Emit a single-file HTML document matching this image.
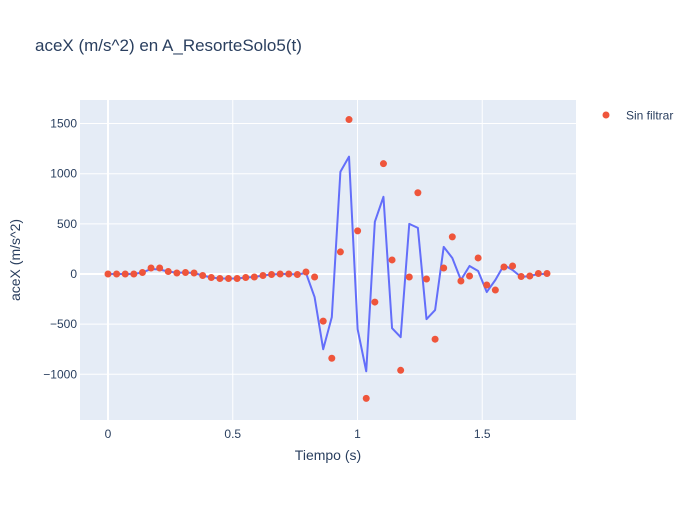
<!DOCTYPE html>
<html><head><meta charset="utf-8"><style>
body{margin:0;background:#fff;font-family:"Liberation Sans",sans-serif}
text{font-family:"Liberation Sans",sans-serif;fill:#2a3f5f}
</style></head><body>
<svg id="c" width="700" height="500">
<rect width="700" height="500" fill="#fff"/>
<rect x="80" y="100" width="496" height="320" fill="#e5ecf6"/>
<g id="grid"></g><g id="ticks"></g><g id="series"></g>
<text x="35" y="51" font-size="17">aceX (m/s^2) en A_ResorteSolo5(t)</text>
<text x="328" y="460" font-size="14" text-anchor="middle">Tiempo (s)</text>
<text x="20" y="260" font-size="14" text-anchor="middle" transform="rotate(-90 20 260)">aceX (m/s^2)</text>
<g>
<circle cx="606" cy="115" r="3.5" fill="#EF553B"/>
<text x="626" y="119.5" font-size="12">Sin filtrar</text>
</g>
</svg>
<script>
const dt=0.0345;
const dots=[0,0,0,0,15,60,60,25,10,15,10,-15,-35,-45,-45,-45,-35,-30,-15,-5,0,0,-5,20,-30,-470,-840,220,1540,430,-1240,-280,1100,140,-960,-30,810,-50,-650,60,370,-70,-20,160,-110,-160,70,80,-25,-20,5,5];
const line=[0,0,0,0,15,50,45,25,12,15,10,-15,-35,-45,-45,-45,-35,-30,-15,-5,0,0,-5,10,-230,-750,-430,1020,1170,-550,-970,520,770,-540,-630,500,460,-450,-360,270,160,-60,80,30,-180,-60,90,40,-30,-20,0,0];
const xTicks=[0,0.5,1,1.5];
const yTicks=[-1000,-500,0,500,1000,1500];
const X=v=>108+v*249.5;
const Y=v=>274-v*0.1003;
const NS='http://www.w3.org/2000/svg';
function mk(t,a,p){const e=document.createElementNS(NS,t);for(const k in a)e.setAttribute(k,a[k]);document.getElementById(p).appendChild(e);return e;}
xTicks.forEach(t=>{
 const g=mk('line',{x1:X(t),x2:X(t),y1:100,y2:420,stroke:'#fff','stroke-width':t===0?2:1},'grid');
 
 
 const l=mk('text',{x:X(t),y:438,'font-size':12,'text-anchor':'middle'},'ticks');l.textContent=t;
 
 
});
yTicks.forEach(t=>{
 const g=mk('line',{x1:80,x2:576,y1:Y(t),y2:Y(t),stroke:'#fff','stroke-width':t===0?2:1},'grid');
 
 
 const l=mk('text',{x:77,y:Y(t)+4,'font-size':12,'text-anchor':'end'},'ticks');l.textContent=t<0?'−'+Math.abs(t):t;
 
 
});
const p=mk('polyline',{points:line.map((v,i)=>X(i*dt)+','+Y(v)).join(' '),fill:'none',stroke:'#636efa','stroke-width':2,'stroke-linejoin':'round'},'series');


dots.forEach((v,i)=>{
 const c=mk('circle',{cx:X(i*dt),cy:Y(v),r:3.5,fill:'#EF553B'},'series');
 
 
});
</script>
</body></html>
